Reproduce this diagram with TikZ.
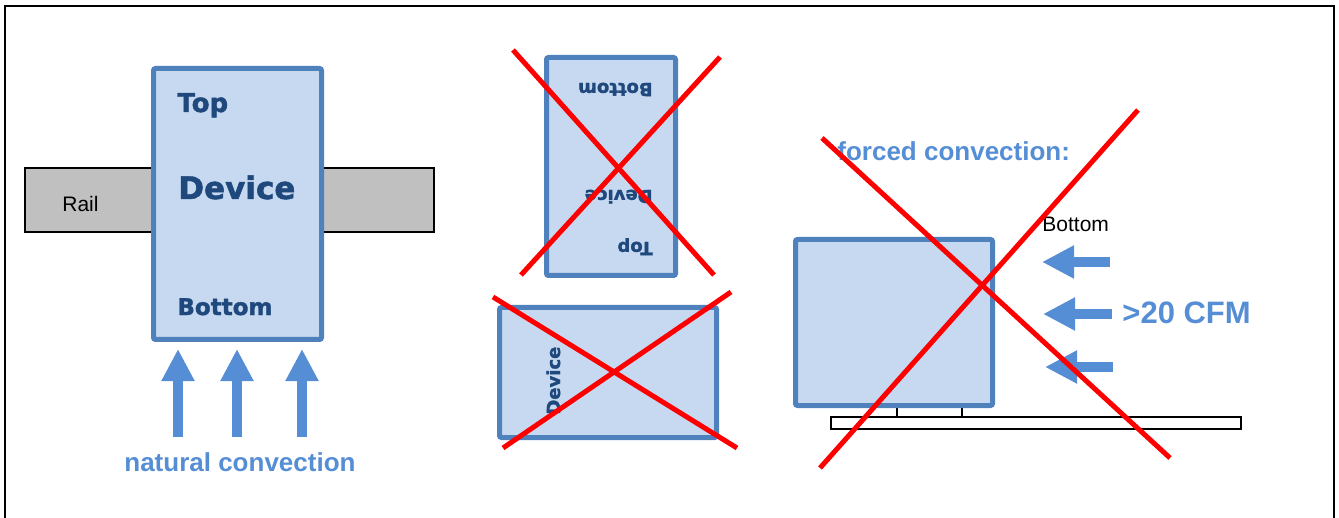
\documentclass[tikz,border=0pt]{standalone}
\usepackage{fontspec}
\setmainfont{Liberation Sans}
\newfontfamily\devfont{DejaVu Sans}[BoldFeatures={FakeBold=1.6}]
\usetikzlibrary{arrows.meta}
\definecolor{devfill}{HTML}{C6D9F1}
\definecolor{devline}{HTML}{4F81BD}
\definecolor{devtext}{HTML}{1F497D}
\definecolor{airblue}{HTML}{558ED5}
\definecolor{crossred}{HTML}{FF0000}
\definecolor{railgray}{HTML}{C0C0C0}
\tikzset{device box/.style={draw=devline,fill=devfill,line width=2.5pt,rounded corners=1pt},
            device label/.style={text=devtext,inner sep=0pt,anchor=base west,font=\devfont\bfseries\fontsize{#1}{#1}\selectfont},
            air arrow/.style={draw=airblue,line width=5pt,-{Triangle[width=15.5pt,length=16pt]}},
            air label/.style={text=airblue,inner sep=0pt,anchor=base west,font=\bfseries\fontsize{#1}{#1}\selectfont},
            cross line/.style={draw=crossred,line width=2.5pt},
            plain label/.style={inner sep=0pt,anchor=base west,font=\fontsize{10.5}{12}\selectfont},
            }

\begin{document}
\begin{tikzpicture}[x=0.5pt,y=-0.5pt]
					\useasboundingbox (0,0) rectangle (1339,518);
					\draw[line width=1pt] (5,518) |- (1334,6) -- (1334,518);
					% natural convection
					\draw[fill=railgray,line width=0.75pt] (25,168) rectangle (434,232);
					\node[plain label] (rail) at (62,212) {Rail};
					\draw[device box] (153.5,68.5) rectangle (321.5,339.5);
					\node[device label=13] (top) at (177,112) {Top};
					\node[device label=15.5] (dev) at (178,199) {Device};
					\node[device label=11.5] (bot) at (177,315) {Bottom};
					\foreach \x [count=\i] in {178,237,302} {
						\coordinate (U\i) at (\x,437);
						\coordinate (T\i) at (\x,349);
						\draw[air arrow] (U\i) to (T\i);
					}
					\node[air label=13] (nat) at (124,471) {natural convection};
					% upside down
					\draw[device box] (546.5,57.5) rectangle (675.5,275.5);
					\node[device label=9,rotate=180] (bot2) at (653,83) {Bottom};
					\node[device label=9,rotate=180] (dev2) at (653,190) {Device};
					\node[device label=9,rotate=180] (top2) at (653,242) {Top};
					\coordinate (A1) at (513,50);
					\coordinate (A2) at (714,275);
					\coordinate (A3) at (720,57);
					\coordinate (A4) at (521,275);
					\draw[cross line] (A1) to (A2);
					\draw[cross line] (A3) to (A4);
					% lying
					\draw[device box] (499.5,307.5) rectangle (716.5,437.5);
					\node[device label=9,rotate=90] (dev3) at (560,415) {Device};
					\coordinate (B1) at (493,297);
					\coordinate (B2) at (737,448);
					\coordinate (B3) at (731,292);
					\coordinate (B4) at (503,448);
					\draw[cross line] (B1) to (B2);
					\draw[cross line] (B3) to (B4);
					% forced convection
					\node[air label=13] (forced) at (837,161) {forced convection:};
					\draw[line width=0.75pt] (897,408) -- (897,417);
					\draw[line width=0.75pt] (962,408) -- (962,417);
					\draw[fill=white,line width=0.75pt] (831,417) rectangle (1241,429);
					\draw[device box] (795.5,239.5) rectangle (992.5,405.5);
					\node[plain label] (bot4) at (1042,232) {Bottom};
					\foreach \y/\xs/\xt [count=\i] in {262/1110/1042,314/1112/1043,367/1113/1045} {
						\coordinate (S\i) at (\xs,\y);
						\coordinate (E\i) at (\xt,\y);
						\draw[air arrow] (S\i) to (E\i);
					}
					\node[air label=15.5] (cfm) at (1122,324) {>20 CFM};
					\coordinate (C1) at (822,138);
					\coordinate (C2) at (1170,458);
					\coordinate (C3) at (1138,110);
					\coordinate (C4) at (820,468);
					\draw[cross line] (C1) to (C2);
					\draw[cross line] (C3) to (C4);
				\end{tikzpicture}
\end{document}
